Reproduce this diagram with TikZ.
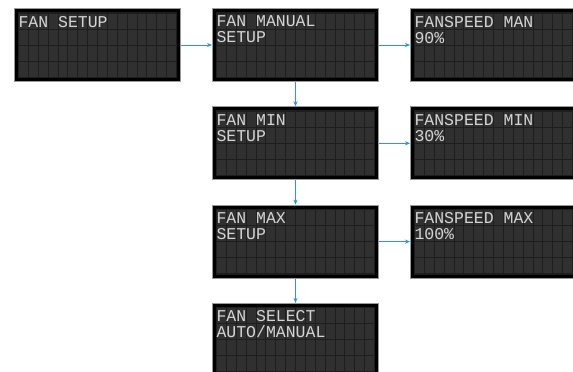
\documentclass[tikz,border=0pt]{standalone}
\usepackage{fontspec}
\usepackage{tikz}
\usepackage{xcolor}
\usetikzlibrary{positioning,calc,arrows.meta}
\newfontfamily\lcdfont{Liberation Mono}
\definecolor{lcdback}{HTML}{1E1E1E}
\definecolor{lcdcell}{HTML}{303030}
\definecolor{lcdedge}{HTML}{9A9A9A}
\definecolor{lcdink}{HTML}{D4D4D4}
\definecolor{flowblue}{HTML}{2196F3}
\newcommand{\lcdtext}[1]{\parbox[t][64pt][t]{158pt}{\lcdfont\fontsize{16.5}{16}\selectfont\color{lcdink}\vspace*{3pt}#1}}

\begin{document}
\begin{tikzpicture}[x=1pt, y=1pt, node distance=29.3pt and 36pt,
  lcd/.style={draw=black, line width=3pt, fill=lcdback, outer sep=0pt,
    inner xsep=2pt, inner ysep=2.5pt,
    preaction={draw=lcdedge, line width=5pt},
    path picture={
      \foreach \col in {0,...,15} {
        \foreach \row in {0,...,3} {
          \fill[lcdcell] ($(path picture bounding box.north west)+(2.5+\col*9.875,-3-\row*16)$)
            rectangle ++(8.9,-15);
        }
      }
    }},
  flow/.style={->, >={Stealth[length=5pt,width=4pt]}, draw=flowblue, line width=0.8pt,
    shorten <=2.5pt, shorten >=2.5pt}]
  \useasboundingbox[fill=white] (0,0) rectangle (573,-372);
  \node[lcd] (fansetup) at (97.5,-45) {\lcdtext{FAN SETUP}};
  \node[lcd, right=of fansetup] (manual) {\lcdtext{FAN MANUAL\\SETUP}};
  \node[lcd, right=of manual] (manspeed) {\lcdtext{FANSPEED MAN\\90\%}};
  \node[lcd, below=of manual] (minsetup) {\lcdtext{FAN MIN\\SETUP}};
  \node[lcd, right=of minsetup] (minspeed) {\lcdtext{FANSPEED MIN\\30\%}};
  \node[lcd, below=of minsetup] (maxsetup) {\lcdtext{FAN MAX\\SETUP}};
  \node[lcd, right=of maxsetup] (maxspeed) {\lcdtext{FANSPEED MAX\\100\%}};
  \node[lcd, below=of maxsetup] (select) {\lcdtext{FAN SELECT\\AUTO/MANUAL}};
  \draw[flow] (fansetup) -- (manual);
  \draw[flow] (manual) -- (manspeed);
  \draw[flow] (manual) -- (minsetup);
  \draw[flow] (minsetup) -- (minspeed);
  \draw[flow] (minsetup) -- (maxsetup);
  \draw[flow] (maxsetup) -- (maxspeed);
  \draw[flow] (maxsetup) -- (select);
\end{tikzpicture}
\end{document}
